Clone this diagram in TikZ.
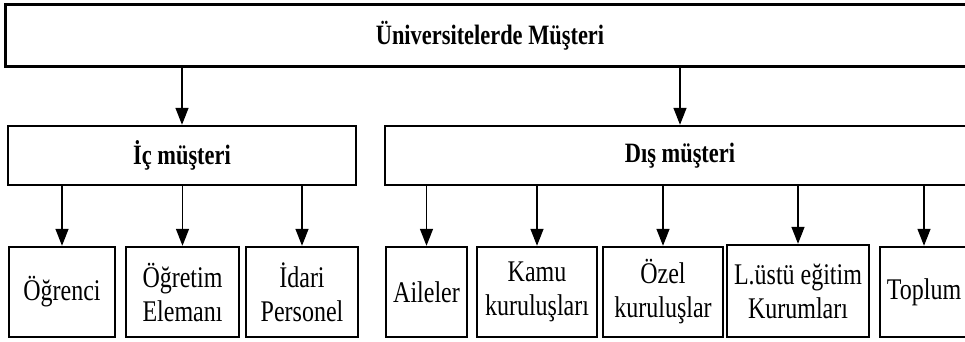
\documentclass[tikz,border=0pt]{standalone}
\usepackage{fontspec}
\setmainfont[FakeStretch=0.8]{Liberation Serif}
\usetikzlibrary{arrows.meta}

\tikzset{
  kutu/.style={draw, line width=2.4pt, inner sep=0pt, align=center,
    font=\fontsize{30}{34}\selectfont},
  baslik/.style={kutu, font=\fontsize{28}{34}\selectfont\bfseries},
  ok/.style={line width=1.4pt, -{Triangle[length=17pt,width=13pt]}}
}

\begin{document}
\begin{tikzpicture}[x=1pt,y=-1pt]
\useasboundingbox (0,0) rectangle (965,342);
\clip (0,0) rectangle (965,342);

\node[baslik, line width=3pt, minimum width=970pt, minimum height=62pt] (ust) at (490,36) {Üniversitelerde Müşteri};

\node[baslik, minimum width=348pt, minimum height=59pt] (ic) at (182,155.5) {İç müşteri};
\node[baslik, minimum width=590pt, minimum height=59pt] (dis) at (680,155.5) {Dış müşteri};

\node[kutu, minimum width=106pt, minimum height=90pt] (ogr) at (62,292) {Öğrenci};
\node[kutu, minimum width=113pt, minimum height=90pt] (ogel) at (182.5,292) {Öğretim\\Elemanı};
\node[kutu, minimum width=112pt, minimum height=90pt] (idari) at (302,292) {İdari\\Personel};

\node[kutu, minimum width=81pt, minimum height=90pt] (aile) at (426.5,292) {Aileler};
\node[kutu, minimum width=120pt, minimum height=90pt] (kamu) at (537,292) {Kamu\\kuruluşları};
\node[kutu, minimum width=120pt, minimum height=90pt] (ozel) at (663,292) {Özel\\kuruluşlar};
\node[kutu, minimum width=142pt, minimum height=92pt] (lustu) at (798,291) {L.üstü eğitim\\Kurumları};
\node[kutu, minimum width=88pt, minimum height=90pt] (toplum) at (924,292) {Toplum};

\draw[ok] (ust.south -| ic) -- (ic);
\draw[ok] (ust.south -| dis) -- (dis);

\draw[ok] (ic.south -| ogr) -- (ogr);
\draw[ok] (ic.south -| ogel) -- (ogel);
\draw[ok] (ic.south -| idari) -- (idari);

\draw[ok] (dis.south -| aile) -- (aile);
\draw[ok] (dis.south -| kamu) -- (kamu);
\draw[ok] (dis.south -| ozel) -- (ozel);
\draw[ok] (dis.south -| lustu) -- (lustu);
\draw[ok] (dis.south -| toplum) -- (toplum);
\end{tikzpicture}
\end{document}
